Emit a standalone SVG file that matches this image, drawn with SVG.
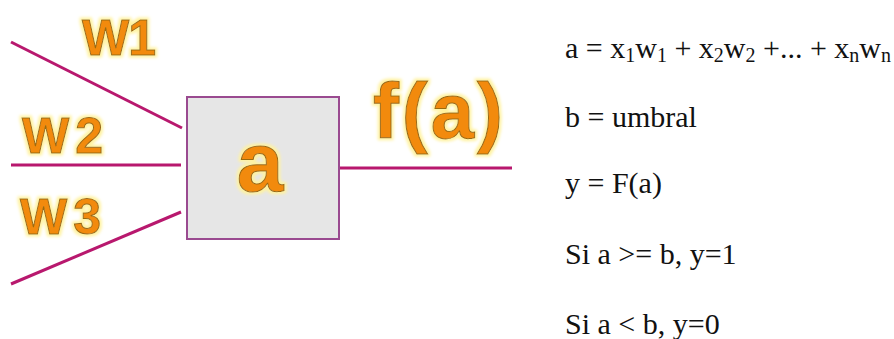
<svg xmlns="http://www.w3.org/2000/svg" width="894" height="339" viewBox="0 0 894 339">
<defs>
<filter id="glow" x="-20%" y="-20%" width="140%" height="140%">
<feMorphology in="SourceAlpha" operator="dilate" radius="2" result="d"/>
<feGaussianBlur in="d" stdDeviation="1.5" result="b"/>
<feFlood flood-color="#fff2a0"/>
<feComposite in2="b" operator="in" result="g"/>
<feMerge><feMergeNode in="g"/><feMergeNode in="SourceGraphic"/></feMerge>
</filter>
</defs>
<style>
.lbl{font-family:"Liberation Sans",Arial,sans-serif;font-weight:bold;fill:#f28a10;stroke:#9a6a10;stroke-width:1;filter:url(#glow)}
.wire{stroke:#b8186e;stroke-width:3;fill:none;stroke-linecap:butt}
.box{fill:#e6e6e6;stroke:#9a4a90;stroke-width:2}
.eq{font-family:"Liberation Serif","Times New Roman",serif;font-size:30px;fill:#111}
.sub{font-size:20px}
</style>
<rect width="894" height="339" fill="#ffffff"/>
<g id="connectors">
<line class="wire" x1="11" y1="42" x2="182" y2="128"/>
<line class="wire" x1="11" y1="165" x2="181" y2="165"/>
<line class="wire" x1="11" y1="284" x2="181" y2="212"/>
<line class="wire" x1="340" y1="168" x2="512" y2="168" stroke="#cc1466"/>
<text class="lbl" x="82" y="55" font-size="50" textLength="74">W1</text>
<text class="lbl" x="22" y="153" font-size="50" textLength="81">W2</text>
<text class="lbl" x="20" y="234" font-size="50" textLength="81">W3</text>
<text class="lbl" x="373" y="138" font-size="78" textLength="130">f(a)</text>
</g>
<g id="neuron">
<rect class="box" x="187" y="97" width="152" height="142"/>
<text class="lbl" x="260" y="191" font-size="84" text-anchor="middle">a</text>
</g>
<g id="formulas">
<text class="eq" x="565" y="58">a = x<tspan class="sub" dy="4">1</tspan><tspan dy="-4">w</tspan><tspan class="sub" dy="4">1</tspan><tspan dy="-4"> + x</tspan><tspan class="sub" dy="4">2</tspan><tspan dy="-4">w</tspan><tspan class="sub" dy="4">2</tspan><tspan dy="-4"> +... + x</tspan><tspan class="sub" dy="4">n</tspan><tspan dy="-4">w</tspan><tspan class="sub" dy="4">n</tspan></text>
<text class="eq" x="565" y="127">b = umbral</text>
<text class="eq" x="565" y="193">y = F(a)</text>
<text class="eq" x="565" y="264">Si a &gt;= b, y=1</text>
<text class="eq" x="565" y="334">Si a &lt; b, y=0</text>
</g>
</svg>
